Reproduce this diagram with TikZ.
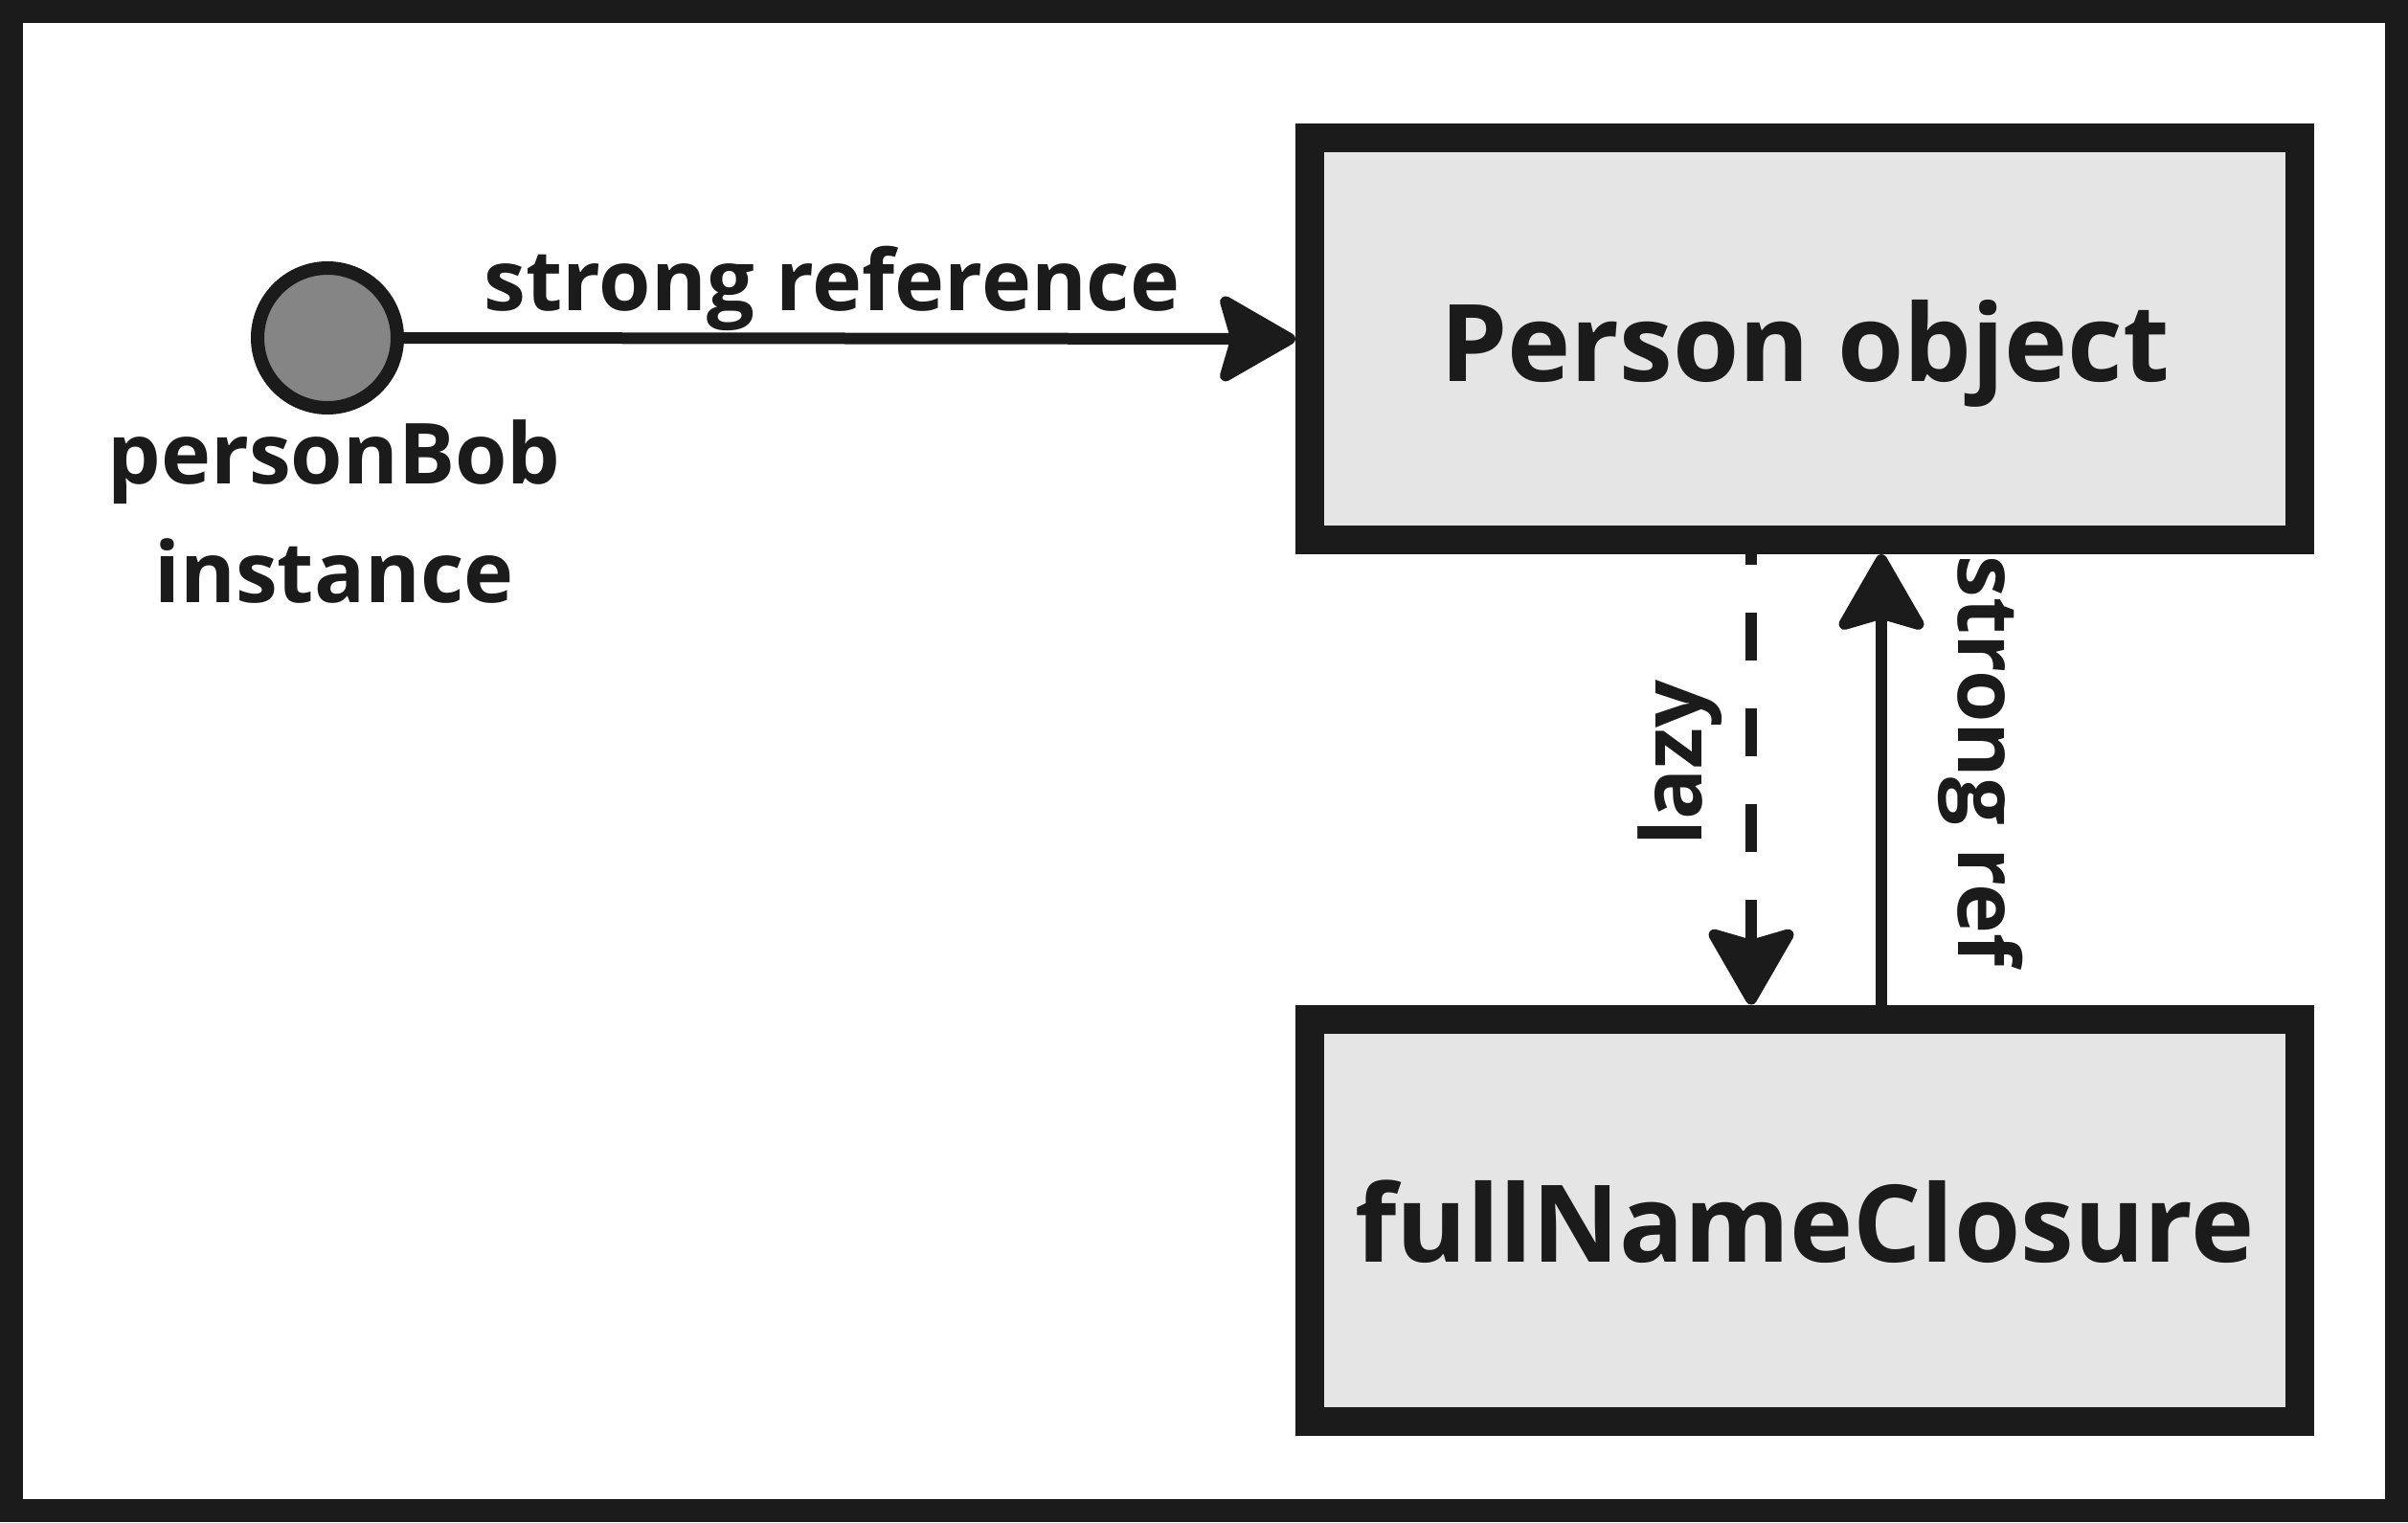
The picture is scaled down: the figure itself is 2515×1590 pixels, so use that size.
\documentclass[tikz,border=0pt]{standalone}
\usepackage{fontspec}
\setmainfont{Open Sans}
\usetikzlibrary{arrows.meta}
\definecolor{ink}{HTML}{1B1B1B}
\definecolor{boxfill}{HTML}{E5E5E5}
\definecolor{dotfill}{HTML}{858585}
\tikzset{
  objbox/.style={draw=ink, fill=boxfill, line width=30pt, minimum width=1034pt, minimum height=420pt, inner sep=0pt,
    text height=88pt, text depth=0pt,
    font=\fontsize{112}{134}\selectfont\bfseries, text=ink},
  lbl/.style={font=\fontsize{88}{124}\selectfont\bfseries, text=ink, inner sep=0pt},
  conn/.style={draw=ink, line width=12pt, -{Stealth[length=88pt, width=100pt, inset=14pt, round]}},
}
\begin{document}
\begin{tikzpicture}[x=1pt, y=-1pt]
\useasboundingbox (0,0) rectangle (2515,1590);
\fill[white] (0,0) rectangle (2515,1590);
\draw[ink, line width=24pt] (12,12) rectangle (2503,1578);

\node[objbox] (person) at (1885,354) {Person object};
\node[objbox] (closure) at (1885,1274.5) {fullNameClosure};
\node[circle, draw=ink, fill=dotfill, line width=14pt, minimum size=146pt, inner sep=0pt] (bob) at (342,353) {};

\node[lbl, align=center, anchor=base] (boblbl) at (349,629) {personBob\\instance};

\draw[conn] (bob.east) -- (person.west)
  node[lbl, anchor=base, pos=0.48, yshift=29pt] (strlbl) {strong reference};

\draw[conn, dash pattern=on 50pt off 50pt, dash phase=39pt]
  ([xshift=-56pt]person.south) -- ([xshift=-56pt]closure.north);
\draw[conn] ([xshift=80pt]closure.north) -- ([xshift=80pt]person.south);

\node[lbl, rotate=90, anchor=base] (lazylbl) at (1777,797) {lazy};
\node[lbl, rotate=-90, anchor=base] (reflbl) at (2045,795) {strong ref};
\end{tikzpicture}
\end{document}
